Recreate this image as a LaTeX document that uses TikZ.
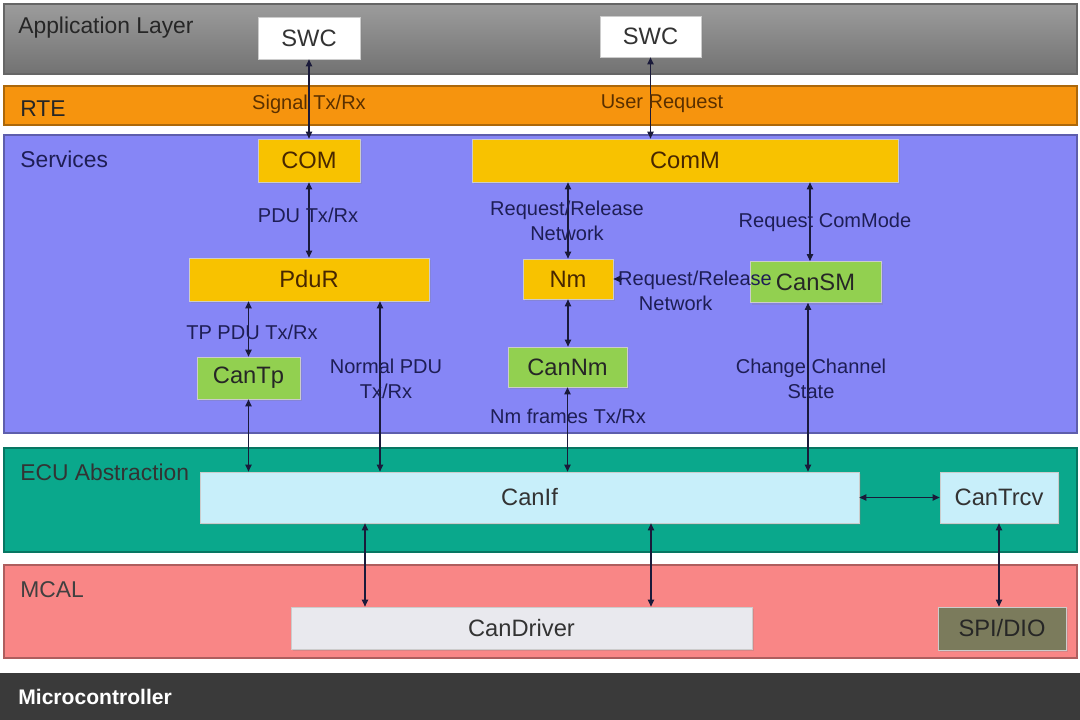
\documentclass[tikz,border=0pt]{standalone}
\usepackage{fontspec}
\setmainfont{Liberation Sans}
\usetikzlibrary{arrows.meta,shadows}
\definecolor{appTop}{HTML}{9C9C9C}
\definecolor{appBot}{HTML}{727272}
\definecolor{rteC}{HTML}{F6940E}
\definecolor{svcC}{HTML}{8686F6}
\definecolor{ecuC}{HTML}{0AA88C}
\definecolor{mcalC}{HTML}{F98686}
\definecolor{microC}{HTML}{3A3A3A}
\definecolor{yelC}{HTML}{F8C200}
\definecolor{grnC}{HTML}{92D050}
\definecolor{ifC}{HTML}{C8EFFA}
\definecolor{drvC}{HTML}{E9E9EE}
\definecolor{spiC}{HTML}{7B7B5C}
\definecolor{lineC}{HTML}{1A1A3A}
\definecolor{navyT}{HTML}{1E1E55}
\definecolor{brownT}{HTML}{5A3000}
\begin{document}
\begin{tikzpicture}[x=0.02cm,y=-0.02cm,
  band/.style={draw=#1!70!black, line width=0.6pt, fill=#1},
  box/.style={inner sep=0pt, draw=black!20, line width=0.4pt,
    drop shadow={shadow xshift=1.2pt,shadow yshift=-1.2pt,opacity=0.25},
    font=\fontsize{13.5}{16}\selectfont, text=black!80},
  layertxt/.style={anchor=west, inner sep=0pt, font=\fontsize{13}{15}\selectfont, text=black!85},
  lbl/.style={inner sep=0pt, align=center, font=\fontsize{11.4}{14.2}\selectfont, text=navyT},
  conn/.style={draw=lineC, line width=0.6pt, {Triangle[length=4pt,width=3.6pt]}-{Triangle[length=4pt,width=3.6pt]}}
]
\useasboundingbox (0,0) rectangle (1080,720);
\fill[white] (0,0) rectangle (1080,720);

% layer bands
\draw[draw=black!60, line width=0.6pt, top color=appTop, bottom color=appBot] (4,4) rectangle (1077,74);
\draw[band=rteC] (4,86) rectangle (1077,125);
\draw[band=svcC] (4,135) rectangle (1077,433);
\draw[band=ecuC] (4,448) rectangle (1077,552);
\draw[band=mcalC] (4,565) rectangle (1077,658);
\fill[microC] (0,673) rectangle (1080,720);

% layer titles
\node[layertxt] (tApp) at (18,28) {Application Layer};
\node[layertxt] (tRte) at (20,109) {RTE};
\node[layertxt, text=navyT] (tSvc) at (20,159) {Services};
\node[layertxt, text=black!80] (tEcu) at (20,472) {ECU Abstraction};
\node[layertxt, text=black!75] (tMcal) at (20,590) {MCAL};
\node[layertxt, text=white, font=\fontsize{12}{14}\selectfont\bfseries] (tMicro) at (18,697) {Microcontroller};

% boxes
\node[box, fill=white, minimum width=2.04cm, minimum height=0.84cm] (swc1) at (309,38) {SWC};
\node[box, fill=white, minimum width=2.02cm, minimum height=0.82cm] (swc2) at (650.5,36.5) {SWC};
\node[box, fill=yelC, text=brownT!80!black, minimum width=2.04cm, minimum height=0.86cm] (com) at (309,160.5) {COM};
\node[box, fill=yelC, text=brownT!80!black, minimum width=8.52cm, minimum height=0.86cm] (comm) at (685,160.5) {ComM};
\node[box, fill=yelC, text=brownT!80!black, minimum width=4.8cm, minimum height=0.86cm] (pdur) at (309,279.5) {PduR};
\node[box, fill=yelC, text=brownT!80!black, minimum width=1.8cm, minimum height=0.8cm] (nm) at (568,279) {Nm};
\node[box, fill=grnC, text=black!85, minimum width=2.62cm, minimum height=0.82cm] (cansm) at (815.5,282) {CanSM};
\node[box, fill=grnC, text=black!85, minimum width=2.06cm, minimum height=0.84cm] (cantp) at (248.5,378) {CanTp};
\node[box, fill=grnC, text=black!85, minimum width=2.38cm, minimum height=0.8cm] (cannm) at (567.5,367) {CanNm};
\node[box, fill=ifC, minimum width=13.18cm, minimum height=1.02cm] (canif) at (529.5,497.5) {CanIf};
\node[box, fill=ifC, minimum width=2.36cm, minimum height=1.02cm] (cantrcv) at (999,497.5) {CanTrcv};
\node[box, fill=drvC, minimum width=9.22cm, minimum height=0.84cm] (candrv) at (521.5,628) {CanDriver};
\node[box, fill=spiC, text=black!85, minimum width=2.56cm, minimum height=0.86cm] (spi) at (1002,628.5) {SPI/DIO};

% helper x positions
\coordinate (xNormal) at (380,0);
\coordinate (xMode) at (810,0);
\coordinate (xState) at (808,0);
\coordinate (xDrvA) at (365,0);
\coordinate (xDrvB) at (651,0);

% connectors
\draw[conn] (swc1.south) -- (com.north);
\draw[conn] (swc2.south) -- (swc2.south |- comm.north);
\draw[conn] (com.south) -- (com.south |- pdur.north);
\draw[conn] (comm.south -| nm.north) -- (nm.north);
\draw[conn] (comm.south -| xMode) -- (cansm.north -| xMode);
\draw[draw=lineC, line width=0.6pt, -{Triangle[length=4pt,width=3.6pt]}, shorten <=2.56cm] (cansm.west |- nm.east) -- (nm.east);
\draw[conn] (nm.south) -- (nm.south |- cannm.north);
\draw[conn] (pdur.south -| cantp.north) -- (cantp.north);
\draw[conn] (pdur.south -| xNormal) -- (canif.north -| xNormal);
\draw[conn] (cantp.south) -- (cantp.south |- canif.north);
\draw[conn] (cannm.south) -- (cannm.south |- canif.north);
\draw[conn] (cansm.south -| xState) -- (canif.north -| xState);
\draw[conn] (canif.east) -- (cantrcv.west);
\draw[conn] (canif.south -| xDrvA) -- (candrv.north -| xDrvA);
\draw[conn] (canif.south -| xDrvB) -- (candrv.north -| xDrvB);
\draw[conn] (cantrcv.south) -- (cantrcv.south |- spi.north);

% connector labels
\node[lbl, text=brownT] (lSig) at (309,104) {Signal Tx/Rx};
\node[lbl, text=brownT] (lUser) at (662,104) {User Request};
\node[lbl] (lPdu) at (308,215) {PDU Tx/Rx};
\node[lbl] (lRR1) at (567,221) {Request/Release\\Network};
\node[lbl] (lMode) at (825,222) {Request ComMode};
\node[lbl] (lRR2) at (695,291) {Request/Release\\Network\hspace*{22pt}};
\node[lbl] (lTp) at (252,332) {TP PDU Tx/Rx};
\node[lbl] (lNorm) at (386,379) {Normal PDU\\Tx/Rx};
\node[lbl] (lNmf) at (568,416) {Nm frames Tx/Rx};
\node[lbl] (lChg) at (811,379) {Change Channel\\State};
\end{tikzpicture}
\end{document}
